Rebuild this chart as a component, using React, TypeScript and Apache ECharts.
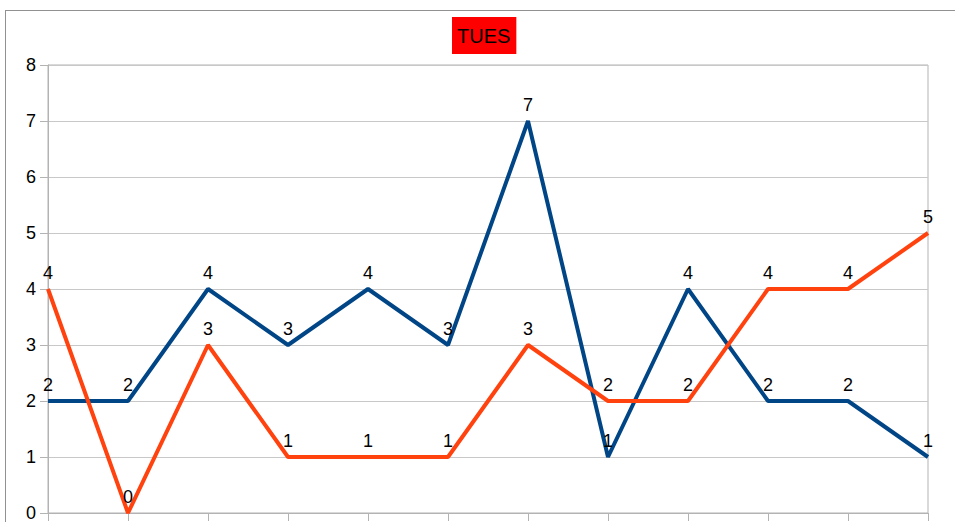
import React, { useEffect, useRef } from "react";
import * as echarts from "echarts";

const categories = ["1", "2", "3", "4", "5", "6", "7", "8", "9", "10", "11", "12"];
const blueValues = [2, 2, 4, 3, 4, 3, 7, 1, 4, 2, 2, 1];
const orangeValues = [4, 0, 3, 1, 1, 1, 3, 2, 2, 4, 4, 5];
const titleText = "TUES";

const FONT = "'Liberation Sans', Arial, sans-serif";

export default function App() {
  const ref = useRef<HTMLDivElement>(null);
  useEffect(() => {
    if (!ref.current) return;
    const chart = echarts.init(ref.current, null, { renderer: "svg" });
    const label = {
      show: true,
      position: "top" as const,
      distance: 7,
      color: "#000",
      fontSize: 18,
      fontFamily: FONT,
      textBorderWidth: 0,
    };
    chart.setOption({
      animation: false,
      backgroundColor: "#fff",
      textStyle: { fontFamily: FONT },
      title: {
        text: titleText,
        left: 452,
        top: 17,
        backgroundColor: "#ff0000",
        padding: [7, 6, 6, 5],
        textStyle: {
          color: "#000",
          fontSize: 20,
          fontWeight: "normal",
          fontFamily: FONT,
          lineHeight: 24,
        },
      },
      graphic: [
        {
          type: "rect",
          shape: { x: 5.5, y: 10.5, width: 1000, height: 600 },
          style: { fill: "none", stroke: "#222", lineWidth: 1, lineDash: [1, 1] },
          silent: true,
          z: -1,
        },
      ],
      grid: {
        left: 48,
        top: 65,
        right: 27,
        bottom: 9,
        containLabel: false,
        show: true,
        borderColor: "#b3b3b3",
        borderWidth: 1,
        backgroundColor: "transparent",
      },
      xAxis: {
        type: "category",
        data: categories,
        boundaryGap: false,
        axisLine: { show: true, lineStyle: { color: "#b3b3b3", width: 1 } },
        axisTick: { show: true, length: 8, alignWithLabel: true, lineStyle: { color: "#b3b3b3" } },
        axisLabel: { show: false },
        splitLine: { show: false },
      },
      yAxis: {
        type: "value",
        min: 0,
        max: 8,
        interval: 1,
        axisLine: { show: true, lineStyle: { color: "#b3b3b3", width: 1 } },
        axisTick: { show: true, length: 8, lineStyle: { color: "#b3b3b3" } },
        axisLabel: { color: "#000", fontSize: 18, margin: 12, fontFamily: FONT },
        splitLine: { show: true, lineStyle: { color: "#c8c8c8", width: 1 } },
      },
      series: [
        {
          type: "line",
          data: blueValues,
          showSymbol: true,
          symbol: "circle",
          symbolSize: 0,
          lineStyle: { color: "#004586", width: 4 },
          itemStyle: { color: "#004586" },
          label,
        },
        {
          type: "line",
          data: orangeValues,
          showSymbol: true,
          symbol: "circle",
          symbolSize: 0,
          lineStyle: { color: "#ff420e", width: 4 },
          itemStyle: { color: "#ff420e" },
          label,
        },
      ],
    });
    return () => chart.dispose();
  }, []);
  return (
    <div
      ref={ref}
      style={{ position: "fixed", left: 0, top: 0, width: 955, height: 522 }}
    />
  );
}
